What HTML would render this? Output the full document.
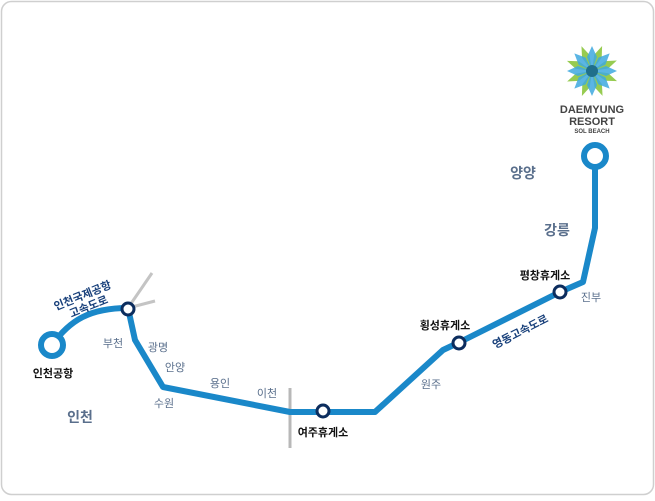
<!DOCTYPE html>
<html><head><meta charset="utf-8"><style>
html,body{margin:0;padding:0;background:#fff;}
svg text{font-family:"Liberation Sans","Noto Sans CJK KR",sans-serif;}
</style></head><body>
<svg width="655" height="496" viewBox="0 0 655 496" xmlns="http://www.w3.org/2000/svg">
<rect x="1.5" y="1.5" width="652" height="493" rx="10" fill="#fff" stroke="#cfcfcf" stroke-width="1.5"/>
<line x1="128" y1="308" x2="152" y2="273" stroke="#c4c4c4" stroke-width="3"/>
<line x1="128" y1="308" x2="155" y2="301" stroke="#c4c4c4" stroke-width="3"/>
<line x1="290" y1="388" x2="290" y2="448" stroke="#b8b8b8" stroke-width="3"/>
<path d="M52,345 C70,320 90,308 128,308 L135,340 L163,387 L290,412 L375,412 L443,350 L460,342 L560,292 L583,282 L595,228 L595,160" fill="none" stroke="#1a88c9" stroke-width="6" stroke-linejoin="round"/>
<circle cx="52" cy="345" r="11" fill="#fff" stroke="#1a88c9" stroke-width="6"/>
<circle cx="595" cy="156" r="11" fill="#fff" stroke="#1a88c9" stroke-width="6"/>
<g fill="#fff" stroke="#0c2d5e" stroke-width="3">
<circle cx="128" cy="309" r="6"/>
<circle cx="323" cy="411" r="6"/>
<circle cx="459" cy="343" r="6"/>
<circle cx="560" cy="292" r="6"/>
</g>
<g transform="translate(592,71)">
<g fill="#8cc63f" opacity="0.9">
<path d="M0,0 L-4,-16 L0,-27 L4,-16Z" transform="rotate(22)"/>
<path d="M0,0 L-4,-16 L0,-27 L4,-16Z" transform="rotate(112)"/>
<path d="M0,0 L-4,-16 L0,-27 L4,-16Z" transform="rotate(202)"/>
<path d="M0,0 L-4,-16 L0,-27 L4,-16Z" transform="rotate(292)"/>
<path d="M0,0 L-4,-16 L0,-27 L4,-16Z" transform="rotate(67)"/>
<path d="M0,0 L-4,-16 L0,-27 L4,-16Z" transform="rotate(157)"/>
<path d="M0,0 L-4,-16 L0,-27 L4,-16Z" transform="rotate(247)"/>
<path d="M0,0 L-4,-16 L0,-27 L4,-16Z" transform="rotate(337)"/>
</g>
<g fill="#3fa9e0" opacity="0.85">
<path d="M0,0 L-5,-14 L0,-25 L5,-14Z"/>
<path d="M0,0 L-5,-14 L0,-25 L5,-14Z" transform="rotate(45)"/>
<path d="M0,0 L-5,-14 L0,-25 L5,-14Z" transform="rotate(90)"/>
<path d="M0,0 L-5,-14 L0,-25 L5,-14Z" transform="rotate(135)"/>
<path d="M0,0 L-5,-14 L0,-25 L5,-14Z" transform="rotate(180)"/>
<path d="M0,0 L-5,-14 L0,-25 L5,-14Z" transform="rotate(225)"/>
<path d="M0,0 L-5,-14 L0,-25 L5,-14Z" transform="rotate(270)"/>
<path d="M0,0 L-5,-14 L0,-25 L5,-14Z" transform="rotate(315)"/>
</g>
<circle r="6" fill="#1f6f8b"/>
</g>
<text x="592" y="113" font-size="11" font-weight="bold" fill="#444" text-anchor="middle">DAEMYUNG</text>
<text x="592" y="125" font-size="11" font-weight="bold" fill="#444" text-anchor="middle">RESORT</text>
<text x="592" y="133" font-size="6" font-weight="bold" fill="#444" text-anchor="middle">SOL BEACH</text>
<g font-size="11" fill="#111" font-weight="bold" text-anchor="middle">
<text x="53" y="377">인천공항</text>
<text x="323" y="436">여주휴게소</text>
<text x="445" y="329">횡성휴게소</text>
<text x="545" y="279">평창휴게소</text>
</g>
<g fill="#5a6f8c" font-size="11" text-anchor="middle">
<text x="113" y="347">부천</text>
<text x="158" y="351">광명</text>
<text x="175" y="371">안양</text>
<text x="164" y="407">수원</text>
<text x="220" y="387">용인</text>
<text x="267" y="397">이천</text>
<text x="431" y="388">원주</text>
<text x="591" y="301">진부</text>
</g>
<g fill="#5a6f8c" font-size="14" font-weight="bold" text-anchor="middle">
<text x="80" y="422">인천</text>
<text x="523" y="178">양양</text>
<text x="557" y="235">강릉</text>
</g>
<g fill="#173f7a" font-size="11" font-weight="bold" text-anchor="middle">
<text transform="translate(84,299) rotate(-22)">인천국제공항</text>
<text transform="translate(90,310) rotate(-22)">고속도로</text>
<text transform="translate(522,335) rotate(-27)">영동고속도로</text>
</g>
</svg>
</body></html>
